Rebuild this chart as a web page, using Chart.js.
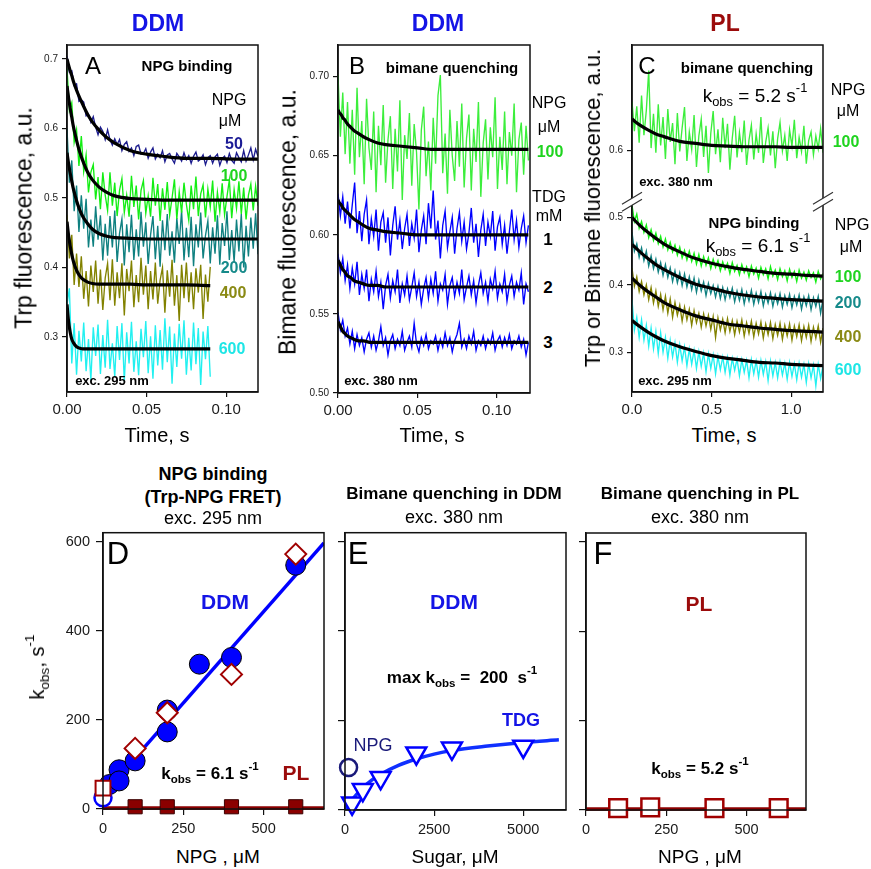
<!DOCTYPE html>
<html><head><meta charset="utf-8">
<script src="https://cdn.jsdelivr.net/npm/chart.js@4.4.1/dist/chart.umd.min.js"></script>
<style>
html,body{margin:0;padding:0;background:#fff;}
#wrap{position:relative;width:871px;height:869px;overflow:hidden;background:#fff;font-family:"Liberation Sans",Arial,sans-serif;}
canvas{position:absolute;}
.t{position:absolute;white-space:nowrap;line-height:1;transform:translate(-50%,-50%);color:#000;z-index:5;font-family:"Liberation Sans",Arial,sans-serif;}
.t sub{font-size:68%;vertical-align:-0.35em;line-height:0;}
.t sup{font-size:68%;vertical-align:0.7em;line-height:0;}
</style></head>
<body><div id="wrap"></div>
<script>
// ---------- Panel A (Trp fluorescence, DDM) ----------
const A_dt = 0.0015;
const A_y50 = [.704,.681,.683,.662,.664,.639,.641,.638,.618,.620,
.609,.617,.602,.591,.602,.596,.584,.598,.584,.576,
.585,.577,.584,.568,.577,.581,.567,.572,.561,.574,
.576,.563,.564,.571,.557,.566,.572,.556,.563,.558,
.568,.552,.562,.564,.556,.550,.564,.559,.553,.565,
.555,.561,.550,.560,.566,.553,.556,.562,.548,.558,
.561,.550,.559,.563,.547,.557,.560,.551,.564,.554,
.550,.565,.558,.552,.568,.553,.562,.572,.555,.570,.560];
const A_y100 = [.686,.626,.637,.580,.598,.546,.589,.538,.562,.508,
.537,.548,.498,.530,.484,.537,.504,.482,.537,.489,
.522,.474,.511,.528,.479,.504,.473,.532,.487,.518,
.469,.511,.525,.478,.503,.473,.529,.489,.520,.467,
.514,.483,.523,.475,.500,.527,.470,.509,.479,.522,
.491,.468,.518,.484,.531,.474,.506,.519,.472,.513,
.487,.525,.466,.508,.480,.521,.476,.502,.526,.471,
.512,.485,.524,.477,.515,.469,.504,.520,.482,.517,.489];
const A_y200 = [.600,.522,.554,.481,.518,.451,.504,.456,.499,.429,
.469,.430,.488,.440,.475,.410,.463,.417,.474,.429,
.482,.408,.449,.470,.403,.462,.422,.476,.411,.455,
.416,.480,.430,.465,.405,.447,.474,.412,.460,.401,
.468,.425,.477,.417,.452,.407,.471,.434,.482,.410,
.457,.415,.473,.402,.462,.429,.479,.413,.446,.467,
.406,.458,.420,.475,.404,.464,.431,.481,.411,.454,
.408,.469,.423,.477,.400,.460,.416,.472,.427,.478,.419];
const A_y400 = [.476,.413,.447,.375,.420,.372,.416,.355,.395,.344,
.403,.365,.410,.348,.397,.339,.385,.406,.353,.412,
.345,.393,.356,.406,.331,.398,.366,.410,.343,.389,
.350,.414,.361,.403,.340,.395,.354,.407,.348,.382,
.400,.335,.396,.358,.411,.345,.389,.323,.404,.356,
.407,.350,.393,.340,.399,.364,.404,.326,.390,.351,.401];
const A_y600 = [.347,.370,.262,.320,.246,.309,.265,.321,.251,.297,
.238,.314,.273,.318,.247,.303,.256,.325,.254,.291,
.243,.316,.267,.320,.236,.307,.262,.322,.250,.294,
.245,.312,.271,.323,.248,.301,.240,.317,.259,.310,
.253,.327,.264,.315,.233,.305,.257,.319,.269,.324,
.246,.299,.252,.321,.261,.313,.231,.308,.268,.316,.243];
const A_fitT = [0,0.001,0.002,0.003,0.004,0.006,0.008,0.010,0.013,0.016,0.020,0.025,0.030,0.040,0.050,0.060,0.075,0.090,0.105,0.120];
const A_fit50  = [0.700,0.691,0.683,0.676,0.668,0.655,0.644,0.634,0.620,0.609,0.598,0.587,0.579,0.568,0.563,0.560,0.557,0.557,0.556,0.556];
const A_fit100 = [0.661,0.644,0.629,0.616,0.603,0.583,0.566,0.553,0.537,0.526,0.516,0.508,0.503,0.499,0.498,0.497,0.497,0.497,0.497,0.497];
const A_fit200 = [0.565,0.549,0.536,0.524,0.513,0.496,0.483,0.473,0.463,0.455,0.449,0.445,0.443,0.442,0.441,0.441,0.441,0.441,0.441,0.441];
const A_fit400 = [0.466,0.446,0.431,0.419,0.409,0.396,0.388,0.383,0.379,0.377,0.376,0.376,0.376,0.376,0.375,0.375,0.375,0.374];
const A_fit600 = [0.347,0.322,0.307,0.297,0.292,0.286,0.284,0.283,0.283,0.283,0.283,0.283,0.283,0.283,0.283,0.283,0.283,0.283];
const A_xTicks = [0, 0.05, 0.10];
const A_yTicks = [0.3, 0.4, 0.5, 0.6, 0.7];

// ---------- Panel B (bimane, DDM) ----------
const B_dt = 0.0015;
const B_yNPG = [.701,.662,.690,.651,.684,.645,.679,.638,.693,.649,
.672,.632,.686,.655,.641,.678,.627,.669,.644,.682,
.633,.660,.675,.629,.667,.640,.685,.622,.663,.648,
.677,.631,.670,.652,.616,.666,.681,.637,.659,.628,
.674,.645,.688,.701,.639,.664,.626,.679,.650,.634,
.672,.643,.683,.630,.661,.676,.628,.667,.646,.684,
.624,.658,.673,.635,.668,.649,.687,.629,.662,.641,
.678,.632,.665,.650,.683,.627,.660,.671,.638,.669,.647];
const B_yTDG1 = [.626,.612,.624,.607,.621,.604,.619,.633,.601,.615,
.596,.613,.622,.594,.610,.599,.616,.590,.608,.614,
.595,.611,.587,.606,.618,.597,.609,.591,.604,.613,
.593,.607,.598,.616,.589,.603,.612,.594,.620,.604,
.628,.597,.609,.585,.606,.615,.592,.602,.611,.588,
.604,.614,.596,.608,.591,.601,.617,.595,.607,.586,
.603,.613,.593,.608,.599,.615,.590,.605,.611,.594,
.606,.588,.602,.616,.597,.609,.592,.604,.612,.595,.606];
const B_yTDG2 = [.588,.576,.585,.571,.581,.566,.579,.569,.583,.562,
.575,.566,.578,.558,.572,.564,.577,.561,.570,.553,
.568,.575,.560,.571,.564,.578,.557,.569,.562,.574,
.559,.567,.576,.561,.570,.556,.566,.573,.560,.572,
.563,.577,.558,.569,.565,.575,.556,.568,.573,.561,
.570,.563,.578,.559,.567,.574,.562,.571,.557,.568,
.576,.563,.570,.558,.572,.566,.577,.560,.569,.564,
.575,.558,.568,.574,.561,.570,.565,.576,.556,.569,.564];
const B_yTDG3 = [.551,.540,.546,.536,.541,.531,.539,.528,.537,.530,
.535,.526,.534,.538,.529,.536,.527,.533,.542,.530,
.535,.524,.533,.537,.528,.534,.530,.539,.527,.532,
.536,.529,.544,.531,.526,.535,.530,.537,.528,.533,
.531,.536,.527,.534,.529,.538,.530,.535,.526,.533,
.537,.544,.529,.534,.528,.536,.531,.539,.527,.533,
.530,.536,.528,.534,.531,.538,.527,.533,.536,.529,
.535,.530,.537,.528,.533,.531,.536,.529,.534,.524,.532];
const B_fitT = [0,0.001,0.002,0.003,0.004,0.006,0.008,0.010,0.013,0.016,0.020,0.025,0.030,0.040,0.050,0.060,0.075,0.090,0.105,0.120];
const B_fitNPG = [0.679,0.677,0.676,0.674,0.673,0.670,0.668,0.666,0.664,0.662,0.660,0.658,0.657,0.656,0.655,0.654,0.654,0.654,0.654,0.654];
const B_fit1 = [0.622,0.620,0.619,0.617,0.616,0.614,0.612,0.610,0.608,0.606,0.604,0.603,0.602,0.601,0.600,0.600,0.600,0.600,0.600,0.600];
const B_fit2 = [0.584,0.582,0.580,0.578,0.577,0.574,0.573,0.571,0.570,0.569,0.568,0.568,0.567,0.567,0.567,0.567,0.567,0.567,0.567,0.567];
const B_fit3 = [0.545,0.543,0.541,0.539,0.538,0.536,0.535,0.534,0.533,0.533,0.532,0.532,0.532,0.532,0.532,0.532,0.532,0.532,0.532,0.532];
const B_xTicks = [0, 0.05, 0.10];
const B_yTicks = [0.50, 0.55, 0.60, 0.65, 0.70];

// ---------- Panel C (PL) ----------
const C_dt = 0.015;
const C_yBim = [.672,.628,.665,.611,.681,.622,.659,.718,.603,.654,
.596,.668,.607,.649,.587,.661,.612,.640,.579,.655,
.598,.633,.664,.584,.627,.601,.652,.575,.621,.646,
.590,.636,.566,.625,.658,.594,.631,.582,.648,.603,
.639,.571,.618,.651,.589,.626,.597,.644,.578,.615,
.637,.586,.624,.596,.649,.581,.612,.633,.592,.628,
.573,.617,.641,.599,.622,.584,.630,.606,.645,.588,
.619,.598,.636,.580,.614,.627,.593,.621,.602,.632,.596];
const C_y100 = [.518,.494,.505,.484,.494,.478,.489,.470,.482,.466,
.477,.461,.472,.456,.468,.452,.463,.449,.459,.444,
.456,.440,.451,.437,.450,.435,.447,.431,.445,.428,
.442,.429,.440,.424,.438,.426,.436,.421,.434,.423,
.432,.417,.433,.420,.429,.415,.430,.418,.427,.412,
.428,.416,.425,.410,.426,.415,.424,.409,.427,.413,
.422,.408,.424,.412,.421,.406,.423,.411,.420,.405,
.422,.410,.419,.407,.421,.411,.418,.404,.420,.409,.417];
const C_y200 = [.478,.450,.461,.441,.455,.436,.450,.428,.443,.424,
.438,.419,.433,.414,.430,.411,.425,.405,.421,.403,
.418,.399,.416,.397,.412,.393,.410,.389,.407,.391,
.404,.384,.402,.387,.399,.382,.398,.380,.396,.378,
.394,.381,.395,.375,.391,.377,.393,.372,.389,.376,
.392,.371,.388,.374,.390,.369,.386,.373,.388,.368,
.385,.372,.387,.367,.384,.371,.386,.366,.383,.370,
.385,.364,.382,.369,.384,.363,.381,.368,.383,.358,.379];
const C_y400 = [.425,.398,.412,.390,.405,.385,.400,.378,.396,.373,
.391,.368,.386,.363,.383,.358,.379,.352,.374,.355,
.370,.346,.367,.348,.364,.340,.362,.344,.358,.337,
.357,.339,.355,.334,.353,.322,.351,.333,.349,.329,
.350,.331,.347,.326,.346,.330,.348,.324,.344,.328,
.346,.323,.343,.327,.345,.321,.342,.326,.344,.320,
.341,.325,.343,.319,.340,.324,.342,.318,.339,.323,
.341,.317,.338,.322,.340,.316,.337,.321,.339,.315,.336];
const C_y600 = [.378,.333,.352,.322,.348,.318,.340,.309,.336,.305,
.331,.298,.329,.300,.322,.291,.318,.293,.314,.285,
.311,.287,.308,.280,.305,.282,.303,.276,.301,.279,
.299,.271,.298,.276,.296,.268,.294,.274,.293,.270,
.292,.266,.291,.273,.290,.265,.289,.270,.288,.262,
.289,.268,.287,.263,.288,.267,.286,.258,.287,.265,
.285,.262,.286,.266,.284,.260,.285,.264,.283,.259,
.284,.263,.282,.255,.283,.262,.281,.250,.282,.261,.280];
const C_fitT = [0,0.05,0.1,0.15,0.2,0.3,0.4,0.5,0.6,0.7,0.8,0.9,1.0,1.1,1.2];
const C_fitBim = [0.646,0.637,0.630,0.624,0.620,0.613,0.610,0.607,0.606,0.605,0.605,0.605,0.604,0.604,0.604];
const C_fit100 = [0.500,0.488,0.478,0.469,0.461,0.449,0.439,0.432,0.427,0.423,0.420,0.417,0.416,0.414,0.413];
const C_fit200 = [0.460,0.449,0.439,0.430,0.423,0.411,0.401,0.395,0.389,0.385,0.382,0.380,0.378,0.377,0.376];
const C_fit400 = [0.410,0.399,0.390,0.382,0.374,0.363,0.354,0.348,0.342,0.339,0.336,0.334,0.332,0.331,0.330];
const C_fit600 = [0.347,0.338,0.330,0.323,0.317,0.308,0.301,0.295,0.291,0.288,0.285,0.284,0.282,0.281,0.280];
const C_xTicks = [0, 0.5, 1.0];
const C_yTicks = [0.3, 0.4, 0.5, 0.6];
const C_breakAt = 0.524;

// ---------- Panel D (NPG binding kobs) ----------
const D_ddmX = [20, 50, 50, 100, 200, 200, 300, 400, 600];
const D_ddmY = [55, 88, 63, 108, 173, 222, 325, 340, 547];
const D_ddmOpenX = [0];
const D_ddmOpenY = [25];
const D_diaX = [100, 200, 400, 600];
const D_diaY = [136, 216, 302, 572];
const D_sqOpenX = [0];
const D_sqOpenY = [47];
const D_plX = [100, 200, 400, 600];
const D_plY = [5, 5, 5, 5];
const D_fitX = [0, 688];
const D_fitY = [33, 597];
const D_plFitX = [0, 688];
const D_plFitY = [2, 2];
const D_xTicks = [0, 250, 500];
const D_yTicks = [0, 200, 400, 600];

// ---------- Panel E (bimane quenching DDM) ----------
const E_tdgX = [200, 500, 1000, 2000, 3000, 5000];
const E_tdgY = [15, 45, 72, 127, 138, 142];
const E_npgX = [100];
const E_npgY = [95];
const E_fitX = [0, 250, 500, 750, 1000, 1500, 2000, 2500, 3000, 4000, 5000, 6000];
const E_fitY = [0, 28, 50, 67, 80, 100, 114, 125, 133, 143, 151, 157];
const E_xTicks = [0, 2500, 5000];
const E_yTicks = [0, 200, 400, 600];

// ---------- Panel F (bimane quenching PL) ----------
const F_sqX = [100, 200, 400, 600];
const F_sqY = [4, 6, 4, 4];
const F_fitX = [0, 685];
const F_fitY = [2, 2];
const F_xTicks = [0, 250, 500];
const F_yTicks = [0, 200, 400, 600];

// ---------- colours ----------
const COL = {navy:'#1c1c8e', green:'#14ee14', teal:'#0f8080', olive:'#828200', cyan:'#22f0f0',
  blue:'#0000ff', lgreen:'#3cee3c', dred:'#8b0000', red:'#a00000'};

Chart.defaults.font.family = '"Liberation Sans", Arial, sans-serif';
Chart.defaults.color = '#111';
const wrap = document.getElementById('wrap');

function xy(xs, ys){ return ys.map((y,i)=>({x:xs[i], y:y})); }
function tgrid(ys, dt){ return ys.map((_, i) => +(i*dt).toFixed(5)); }
function trace(ys, dt, color){ return {data: xy(tgrid(ys, dt), ys), showLine:true, borderColor:color, borderWidth:1.35, pointRadius:0, pointHoverRadius:0, tension:0}; }
function fit(xs, ys, color, w){ return {data: xy(xs, ys), showLine:true, borderColor:color||'#000', borderWidth:w||3.2, pointRadius:0, pointHoverRadius:0, cubicInterpolationMode:'monotone'}; }
function pts(xs, ys, style, r, bg, bc, bw, rot){ return {data: xy(xs, ys), showLine:false, pointStyle:style, pointRadius:r, pointHoverRadius:r, pointBackgroundColor:bg, pointBorderColor:bc, pointBorderWidth:bw, rotation:rot||0, clip:false}; }

const framePlugin = { id:'frame', afterDraw(chart){ const a=chart.chartArea, c=chart.ctx; c.save(); c.strokeStyle='#111'; c.lineWidth=1.5; c.strokeRect(a.left, a.top, a.right-a.left, a.bottom-a.top); c.restore(); } };
const breakPlugin = { id:'brk', afterDraw(chart){ const c=chart.ctx, a=chart.chartArea, y=chart.scales.y.getPixelForValue(C_breakAt); c.save();
  [a.left, a.right].forEach(x=>{ c.fillStyle='#fff'; c.beginPath(); c.moveTo(x-10,y+3); c.lineTo(x+10,y-9); c.lineTo(x+10,y-2); c.lineTo(x-10,y+10); c.closePath(); c.fill();
    c.strokeStyle='#333'; c.lineWidth=1.2; c.beginPath(); c.moveTo(x-10,y+3); c.lineTo(x+10,y-9); c.moveTo(x-10,y+10); c.lineTo(x+10,y-2); c.stroke(); });
  c.restore(); } };

function axis(o, size, isX){
  return {
    type:'linear', min:o.min, max:o.max, position: isX?'bottom':'left',
    afterBuildTicks: s => { s.ticks = o.ticks.map(v=>({value:v})); },
    afterFit: s => { if (isX) s.height = size; else s.width = size; },
    ticks:{ autoSkip:false, maxRotation:0, minRotation:0, padding:o.pad, font:{size:o.font}, color:'#1a1a1a', callback:o.fmt },
    grid:{ display:true, drawOnChartArea:false, drawTicks:true, tickLength:o.tick, color:'#111', lineWidth:1.2 },
    border:{ display:true, color:'#111', width:1.5 }
  };
}
function makeChart(box, pad, datasets, xo, yo, extra){
  const cv = document.createElement('canvas');
  const W = box.r - box.l + pad.l + pad.r, H = box.b - box.t + pad.t + pad.b;
  cv.width = W; cv.height = H;
  cv.style.left = (box.l - pad.l)+'px'; cv.style.top = (box.t - pad.t)+'px';
  cv.style.width = W+'px'; cv.style.height = H+'px';
  wrap.appendChild(cv);
  return new Chart(cv, {
    type:'scatter', data:{datasets:datasets},
    options:{ responsive:false, animation:false, devicePixelRatio:1, events:[],
      layout:{padding:{left:0, top:pad.t, right:pad.r, bottom:0}},
      plugins:{legend:{display:false}, tooltip:{enabled:false}},
      scales:{ x: axis(xo, pad.b, true), y: axis(yo, pad.l, false) } },
    plugins:[framePlugin].concat(extra||[])
  });
}
const f1 = v => v.toFixed(1), f2 = v => v.toFixed(2), f0 = v => String(v), fn = () => '';

// Panel A
makeChart({l:67,t:45,r:258,b:392},{l:45,t:12,r:12,b:32},[
  fit(A_fitT, A_fit50), fit(A_fitT, A_fit100), fit(A_fitT, A_fit200), fit(A_fitT.slice(0,18), A_fit400), fit(A_fitT.slice(0,18), A_fit600),
  trace(A_y50, A_dt, COL.navy), trace(A_y100, A_dt, COL.green), trace(A_y200, A_dt, COL.teal), trace(A_y400, A_dt, COL.olive), trace(A_y600, A_dt, COL.cyan)
], {min:0,max:0.12,ticks:A_xTicks,fmt:f2,font:15,tick:5,pad:4}, {min:0.221,max:0.72,ticks:A_yTicks,fmt:f1,font:10,tick:5,pad:4});

// Panel B
makeChart({l:338,t:45,r:530,b:393},{l:45,t:12,r:12,b:32},[
  fit(B_fitT, B_fitNPG), fit(B_fitT, B_fit1), fit(B_fitT, B_fit2), fit(B_fitT, B_fit3),
  trace(B_yNPG, B_dt, COL.lgreen), trace(B_yTDG1, B_dt, COL.blue), trace(B_yTDG2, B_dt, COL.blue), trace(B_yTDG3, B_dt, COL.blue)
], {min:0,max:0.121,ticks:B_xTicks,fmt:f2,font:15,tick:5,pad:4}, {min:0.50,max:0.72,ticks:B_yTicks,fmt:f2,font:10,tick:5,pad:4});

// Panel C
makeChart({l:632,t:45,r:823,b:392},{l:45,t:12,r:14,b:32},[
  fit(C_fitT, C_fitBim), fit(C_fitT, C_fit100), fit(C_fitT, C_fit200), fit(C_fitT, C_fit400), fit(C_fitT, C_fit600),
  trace(C_yBim, C_dt, COL.lgreen), trace(C_y100, C_dt, COL.green), trace(C_y200, C_dt, COL.teal), trace(C_y400, C_dt, COL.olive), trace(C_y600, C_dt, COL.cyan)
], {min:0,max:1.2,ticks:C_xTicks,fmt:f1,font:15,tick:5,pad:4}, {min:0.241,max:0.756,ticks:C_yTicks,fmt:f1,font:10,tick:5,pad:4}, [breakPlugin]);

// Panel D
makeChart({l:103,t:530,r:324,b:809},{l:60,t:12,r:14,b:36},[
  pts(D_plX, D_plY, 'rect', 10, COL.dred, '#3a0000', 1),
  pts(D_diaX, D_diaY, 'rectRot', 10.5, '#fff', COL.red, 2),
  pts(D_sqOpenX, D_sqOpenY, 'rect', 10.5, '#fff', COL.red, 2),
  pts(D_ddmOpenX, D_ddmOpenY, 'circle', 8.5, '#fff', COL.blue, 2.5),
  pts(D_ddmX, D_ddmY, 'circle', 10, COL.blue, '#000', 1),
  Object.assign(fit(D_plFitX, D_plFitY, COL.dred, 3.5), {clip:false}),
  fit(D_fitX, D_fitY, COL.blue, 3.5)
], {min:0,max:688,ticks:D_xTicks,fmt:f0,font:14.5,tick:6,pad:5}, {min:0,max:620,ticks:D_yTicks,fmt:f0,font:14.5,tick:7,pad:6});

// Panel E
makeChart({l:345,t:530,r:566,b:810},{l:20,t:12,r:14,b:36},[
  pts(E_npgX, E_npgY, 'circle', 8.5, '#fff', '#1a1a7a', 2.5),
  pts(E_tdgX, E_tdgY, 'triangle', 11.5, '#fff', COL.blue, 2.5, 180),
  fit(E_fitX, E_fitY, '#1030ff', 3.5)
], {min:0,max:6200,ticks:E_xTicks,fmt:f0,font:14.5,tick:6,pad:5}, {min:0,max:620,ticks:E_yTicks,fmt:fn,font:14.5,tick:7,pad:6});

// Panel F
makeChart({l:586,t:530,r:807,b:810},{l:20,t:12,r:14,b:36},[
  pts(F_sqX, F_sqY, 'rect', 12.5, '#fff', COL.red, 2.5),
  Object.assign(fit(F_fitX, F_fitY, COL.dred, 3.5), {clip:false})
], {min:0,max:685,ticks:F_xTicks,fmt:f0,font:14.5,tick:6,pad:5}, {min:0,max:620,ticks:F_yTicks,fmt:fn,font:14.5,tick:7,pad:6});

// ---------- text ----------
function T(x, y, html, font, color, rot){
  const d = document.createElement('div'); d.className='t'; d.innerHTML = html;
  d.style.left = x+'px'; d.style.top = y+'px'; d.style.font = font + ' "Liberation Sans", Arial, sans-serif';
  d.style.lineHeight = '1';
  if (color) d.style.color = color;
  if (rot) d.style.transform = 'translate(-50%,-50%) rotate(-90deg)';
  wrap.appendChild(d);
}
const TB='#1414e6', TR='#9b0b0b';
T(158, 23, 'DDM', 'bold 23px', TB);
T(438, 23, 'DDM', 'bold 23px', TB);
T(725, 23, 'PL', 'bold 23px', TR);
// A
T(93, 66, 'A', '24px');
T(187, 65, 'NPG binding', 'bold 15px');
T(229, 100, 'NPG', '16px');
T(230, 121, '&mu;M', '16px');
T(234, 144, '50', 'bold 16px', '#1c1c96');
T(234, 176, '100', 'bold 16px', '#1fd41f');
T(234, 268, '200', 'bold 16px', '#168a8a');
T(233, 293, '400', 'bold 16px', '#8a8a14');
T(232, 349, '600', 'bold 16px', '#1ee6e6');
T(112, 380, 'exc. 295 nm', 'bold 13px');
T(24, 218, 'Trp fluorescence, a.u.', '23px', null, true);
T(157, 435, 'Time, s', '20px');
// B
T(357, 66, 'B', '24px');
T(452, 67, 'bimane quenching', 'bold 15px');
T(549, 103, 'NPG', '16px');
T(549, 127, '&mu;M', '16px');
T(550, 152, '100', 'bold 16px', '#1fd41f');
T(549, 197, 'TDG', '16px');
T(549, 216, 'mM', '16px');
T(548, 239, '1', 'bold 17px');
T(548, 287, '2', 'bold 17px');
T(548, 342, '3', 'bold 17px');
T(381, 380, 'exc. 380 nm', 'bold 13px');
T(288, 222, 'Bimane fluorescence, a.u.', '23px', null, true);
T(432, 435, 'Time, s', '20px');
// C
T(647, 66, 'C', '24px');
T(747, 67, 'bimane quenching', 'bold 15px');
T(755, 95, 'k<sub>obs</sub> = 5.2 s<sup>-1</sup>', '19px');
T(848, 90, 'NPG', '16px');
T(848, 111, '&mu;M', '16px');
T(846, 142, '100', 'bold 16px', '#1fd41f');
T(676, 181, 'exc. 380 nm', 'bold 13px');
T(754, 222, 'NPG binding', 'bold 15px');
T(758, 245, 'k<sub>obs</sub> = 6.1 s<sup>-1</sup>', '19px');
T(852, 225, 'NPG', '16px');
T(851, 247, '&mu;M', '16px');
T(848, 277, '100', 'bold 16px', '#1fd41f');
T(848, 303, '200', 'bold 16px', '#168a8a');
T(848, 337, '400', 'bold 16px', '#8a8a14');
T(848, 370, '600', 'bold 16px', '#1ee6e6');
T(675, 380, 'exc. 295 nm', 'bold 13px');
T(593, 208, 'Trp or Bimane fluorescence, a.u.', '22px', null, true);
T(724, 435, 'Time, s', '20px');
// D
T(213, 474, 'NPG binding', 'bold 18px');
T(213, 497, '(Trp-NPG FRET)', 'bold 18px');
T(213, 518, 'exc. 295 nm', '18px');
T(118, 553, 'D', '31px');
T(225, 601, 'DDM', 'bold 21px', TB);
T(210, 773, 'k<sub>obs</sub> = 6.1 s<sup>-1</sup>', 'bold 17px');
T(296, 772, 'PL', 'bold 21px', TR);
T(37, 667, 'k<sub>obs</sub>, s<sup>-1</sup>', '20px', null, true);
T(218, 856, 'NPG , &mu;M', '19px');
// E
T(454, 493, 'Bimane quenching in DDM', 'bold 17px');
T(454, 517, 'exc. 380 nm', '18px');
T(358, 553, 'E', '31px');
T(454, 601, 'DDM', 'bold 21px', TB);
T(462, 677, 'max k<sub>obs</sub> =&nbsp; 200&nbsp; s<sup>-1</sup>', 'bold 17px');
T(521, 720, 'TDG', 'bold 18px', TB);
T(373, 745, 'NPG', '18px', '#1a1a7a');
T(455, 856, 'Sugar, &mu;M', '19px');
// F
T(700, 493, 'Bimane quenching in PL', 'bold 17px');
T(700, 517, 'exc. 380 nm', '18px');
T(603, 553, 'F', '31px');
T(699, 603, 'PL', 'bold 21px', TR);
T(700, 768, 'k<sub>obs</sub> = 5.2 s<sup>-1</sup>', 'bold 17px');
T(700, 856, 'NPG , &mu;M', '19px');
</script>
</body></html>
